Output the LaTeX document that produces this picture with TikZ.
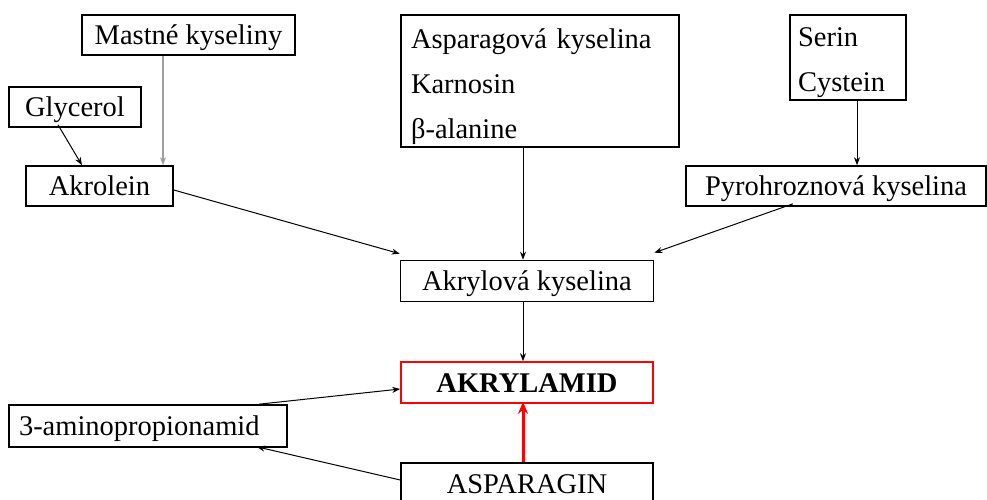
\documentclass[tikz,border=0pt]{standalone}
\usepackage{fontspec}
\setmainfont{Liberation Serif}
\usetikzlibrary{arrows.meta}
\begin{document}
\begin{tikzpicture}[x=1pt,y=-1pt,
  box/.style={draw=black,line width=1.6pt,inner sep=0pt,font=\fontsize{28.5}{45}\selectfont},
  onebox/.style={box,text height=25pt,text depth=6pt},
  redbox/.style={onebox,draw=red},
  conn/.style={line width=1pt,-{Stealth[length=8pt,width=6pt]}},
  grayconn/.style={conn,draw=gray!75,line width=2.2pt},
  redconn/.style={draw=red,line width=3pt,-{Stealth[length=12pt,width=10pt]}}]
\useasboundingbox (0,0) rectangle (987,500);
\node[onebox,minimum width=213pt,minimum height=40pt] (mastne) at (188.5,35) {Mastné kyseliny};
\node[onebox,minimum width=132pt,minimum height=40pt] (glycerol) at (75,107) {Glycerol};
\node[onebox,minimum width=147pt,minimum height=40pt] (akrolein) at (99.5,186) {Akrolein};
\node[box,minimum width=278pt,minimum height=132pt,text width=258pt,align=left] (aspar) at (540,81) {\rule{0pt}{31pt}Asparagová kyselina\\Karnosin\\β-alanine};
\node[box,minimum width=116pt,minimum height=85pt,text width=100pt,align=left] (serin) at (848,57.5) {\rule{0pt}{29pt}Serin\\Cystein};
\node[onebox,minimum width=300pt,minimum height=40pt] (pyro) at (836,186) {Pyrohroznová kyselina};
\node[onebox,minimum width=253pt,minimum height=41pt] (akryl) at (527,281) {Akrylová kyselina};
\node[redbox,minimum width=252pt,minimum height=41pt,font=\fontsize{28.5}{45}\selectfont\bfseries] (amid) at (527,382.5) {AKRYLAMID};
\node[box,text height=22pt,text depth=6pt,minimum width=252pt,minimum height=44pt] (asparagin) at (527,485) {ASPARAGIN};
\node[onebox,minimum width=278pt,minimum height=42pt,text width=258pt,align=left] (amino) at (148,426) {3-aminopropionamid};
% connectors
\coordinate (mk) at ([xshift=-25.5pt]mastne.south);
\coordinate (ak) at ([xshift=-10pt]akrolein.north east);
\draw[grayconn] (mk |- mastne.south) -- (mk |- ak);
\draw[conn] ([xshift=-17pt,yshift=3pt]glycerol.south) -- ([xshift=-17.5pt]akrolein.north);
\coordinate (cx) at ([xshift=-4pt]akryl.north);
\draw[conn] (cx |- aspar.south) -- (cx);
\draw[conn] ([yshift=-4pt]akrolein.east) -- ([yshift=6pt]akryl.north west);
\coordinate (sx) at ([xshift=9pt]serin.south);
\draw[conn] (sx) -- (sx |- pyro.north);
\draw[conn] ([xshift=-43pt,yshift=3pt]pyro.south) -- ([yshift=7pt]akryl.north east);
\draw[conn] (cx |- akryl.south) -- (cx |- amid.north);
\draw[redconn] (cx |- asparagin.north) -- ([yshift=2pt]cx |- amid.south);
\draw[conn] ([xshift=-29pt]amino.north east) -- ([yshift=-6.5pt]amid.west);
\draw[conn] ([yshift=5pt]asparagin.west) -- ([xshift=-31pt,yshift=1pt]amino.south east);
\end{tikzpicture}
\end{document}
